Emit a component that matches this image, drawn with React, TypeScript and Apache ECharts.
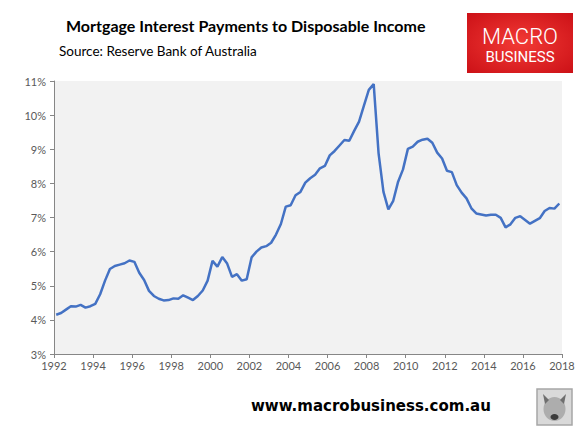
import React, { useEffect, useRef } from "react";
import * as echarts from "echarts";

const startYear = 1992;
const quarterOffset = 0.45;
const values: number[] = [
  4.15, 4.2, 4.3, 4.4, 4.39, 4.44, 4.36, 4.4, 4.47, 4.75,
  5.15, 5.49, 5.58, 5.62, 5.66, 5.74, 5.7, 5.38, 5.17, 4.85,
  4.7, 4.62, 4.57, 4.58, 4.63, 4.62, 4.72, 4.65, 4.58, 4.7,
  4.86, 5.15, 5.73, 5.56, 5.84, 5.65, 5.26, 5.34, 5.15, 5.19,
  5.83, 6.0, 6.12, 6.16, 6.26, 6.5, 6.81, 7.32, 7.36, 7.65,
  7.75, 8.02, 8.15, 8.25, 8.44, 8.51, 8.82, 8.95, 9.11, 9.27,
  9.25, 9.54, 9.81, 10.28, 10.74, 10.91, 8.88, 7.75, 7.24, 7.49,
  8.05, 8.41, 9.01, 9.08, 9.22, 9.28, 9.31, 9.19, 8.9, 8.73,
  8.37, 8.33, 7.95, 7.73, 7.56, 7.27, 7.12, 7.09, 7.06, 7.08,
  7.08, 6.99, 6.71, 6.8, 6.99, 7.04, 6.93, 6.82, 6.9, 6.98,
  7.19, 7.28, 7.26, 7.41,
];
const xTicks = { min: 1992, max: 2018, interval: 2 };
const yTicks = { min: 3, max: 11, interval: 1 };

const titleText = "Mortgage Interest Payments to Disposable Income";
const sourceText = "Source: Reserve Bank of Australia";
const footerText = "www.macrobusiness.com.au";

export default function App() {
  const ref = useRef<HTMLDivElement>(null);
  useEffect(() => {
    if (!ref.current) return;
    const chart = echarts.init(ref.current, undefined, { renderer: "svg" });
    const data = values.map((v, i) => [startYear + (i + quarterOffset) / 4, v]);
    const axisColor = "#868686";
    const labelColor = "#595959";
    chart.setOption({
      animation: false,
      backgroundColor: "#ffffff",
      grid: {
        left: 54,
        right: 21,
        top: 81,
        bottom: 89,
        show: true,
        backgroundColor: "#F2F2F2",
        borderWidth: 0,
      },
      xAxis: {
        type: "value",
        min: xTicks.min,
        max: xTicks.max,
        interval: xTicks.interval,
        axisLine: { show: true, lineStyle: { color: axisColor, width: 1 } },
        axisTick: { show: true, inside: false, length: 4, lineStyle: { color: axisColor } },
        splitLine: { show: false },
        axisLabel: {
          color: labelColor,
          fontFamily: "Lato",
          fontSize: 11,
          margin: 6,
          formatter: (v: number) => String(v),
        },
      },
      yAxis: {
        type: "value",
        min: yTicks.min,
        max: yTicks.max,
        interval: yTicks.interval,
        axisLine: { show: true, lineStyle: { color: axisColor, width: 1 } },
        axisTick: { show: true, inside: false, length: 4, lineStyle: { color: axisColor } },
        splitLine: { show: false },
        axisLabel: {
          color: labelColor,
          fontFamily: "Lato",
          fontSize: 11,
          margin: 8,
          formatter: (v: number) => v + "%",
        },
      },
      series: [
        {
          type: "line",
          data,
          showSymbol: false,
          symbol: "none",
          lineStyle: { color: "#4472C4", width: 2.5 },
          z: 3,
        },
      ],
      graphic: [
        {
          type: "text",
          left: 66,
          top: 17,
          style: {
            text: titleText,
            fontFamily: "Lato",
            fontWeight: "bold",
            fontSize: 16,
            fill: "#000000",
          },
        },
        {
          type: "text",
          left: 59,
          top: 44,
          style: {
            text: sourceText,
            fontFamily: "Lato",
            fontSize: 13.5,
            fill: "#000000",
          },
        },
        {
          type: "rect",
          shape: { x: 467, y: 13, width: 106, height: 60 },
          style: {
            fill: new echarts.graphic.RadialGradient(0.5, 0.5, 0.7, [
              { offset: 0, color: "#F23A35" },
              { offset: 1, color: "#CC1117" },
            ]),
          },
        },
        {
          type: "text",
          x: 520,
          y: 36,
          style: {
            text: "MACRO",
            fontFamily: "Roboto",
            fontWeight: 300,
            fontSize: 22,
            fill: "#ffffff",
            align: "center",
            verticalAlign: "middle",
          },
        },
        {
          type: "text",
          x: 520,
          y: 57,
          style: {
            text: "BUSINESS",
            fontFamily: "Roboto",
            fontSize: 15,
            fill: "#ffffff",
            align: "center",
            verticalAlign: "middle",
          },
        },
        {
          type: "text",
          left: 251,
          top: 398,
          style: {
            text: footerText,
            fontFamily: "DejaVu Sans",
            fontWeight: "bold",
            fontSize: 15,
            fill: "#000000",
          },
        },
        {
          type: "rect",
          shape: { x: 537, y: 389, width: 35, height: 36 },
          style: { fill: "#D9D9D9", stroke: "#A6A6A6", lineWidth: 1.5 },
        },
        {
          type: "ellipse",
          shape: { cx: 554.5, cy: 409, rx: 11, ry: 12 },
          style: { fill: "#9A9A9A", opacity: 0.7 },
        },
        {
          type: "polygon",
          shape: { points: [[543, 394], [549, 400], [545, 404]] },
          style: { fill: "#6E6E6E" },
        },
        {
          type: "polygon",
          shape: { points: [[566, 394], [560, 400], [564, 404]] },
          style: { fill: "#6E6E6E" },
        },
        {
          type: "ellipse",
          shape: { cx: 554.5, cy: 417, rx: 4, ry: 3 },
          style: { fill: "#3A3A3A" },
        },
      ],
    });
    return () => chart.dispose();
  }, []);
  return (
    <div
      ref={ref}
      style={{ position: "fixed", left: 0, top: 0, width: 583, height: 443 }}
    />
  );
}
